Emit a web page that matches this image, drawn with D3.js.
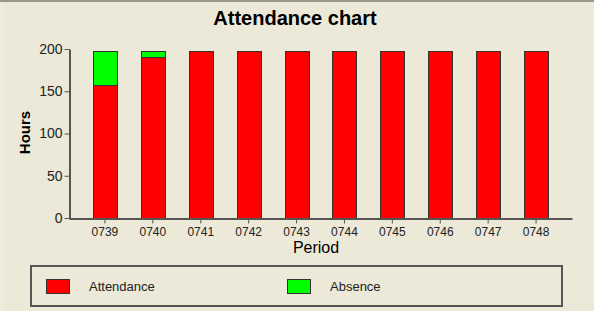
<!DOCTYPE html>
<html>
<head>
<meta charset="utf-8">
<script src="https://d3js.org/d3.v7.min.js"></script>
<style>
  body { margin: 0; background: #ECE9D8; }
</style>
</head>
<body>
<div id="graph"></div>
<script>

// data
var periods = ["0739", "0740", "0741", "0742", "0743", "0744", "0745", "0746", "0747", "0748"];
var attendance = [157, 190, 198, 198, 198, 198, 198, 198, 198, 198];
var absence = [41, 8, 0, 0, 0, 0, 0, 0, 0, 0];
var yTicks = [0, 50, 100, 150, 200];
var seriesNames = ["Attendance", "Absence"];
var seriesColors = ["#FF0000", "#00FF00"];

var W = 594, H = 311;
var margin = {top: 49, right: 22, bottom: 93, left: 69},
    width = W - margin.left - margin.right,
    height = H - margin.top - margin.bottom;

var svg = d3.select("#graph")
  .append("svg")
    .attr("width", W)
    .attr("height", H)
    .style("display", "block")
    .style("font-family", "Liberation Sans, Arial, sans-serif");

// frame
svg.append("rect").attr("width", W).attr("height", H).attr("fill", "#ECE9D8");
svg.append("line").attr("x1", 0).attr("x2", W).attr("y1", 1).attr("y2", 1)
  .attr("stroke", "#9a988c").attr("stroke-width", 2);
svg.append("line").attr("x1", 1.5).attr("x2", 1.5).attr("y1", 2).attr("y2", H)
  .attr("stroke", "#f4f2e8").attr("stroke-width", 1);

// title
svg.append("text")
  .attr("x", 295)
  .attr("y", 25)
  .attr("text-anchor", "middle")
  .attr("font-weight", "bold")
  .attr("font-size", "20px")
  .attr("fill", "#000")
  .text("Attendance chart");

var g = svg.append("g")
  .attr("transform", "translate(" + margin.left + "," + margin.top + ")");

var x = d3.scaleBand()
  .domain(periods)
  .range([0, width])
  .paddingInner(0.5)
  .paddingOuter(0.5);

var y = d3.scaleLinear()
  .domain([0, 200])
  .range([height, 0]);

// stacked bars
var rows = periods.map(function(p, i) {
  return {period: p, Attendance: attendance[i], Absence: absence[i]};
});
var stacked = d3.stack().keys(seriesNames)(rows);

g.selectAll("g.layer")
  .data(stacked)
  .enter().append("g")
    .attr("class", "layer")
    .attr("fill", function(d, i) { return seriesColors[i]; })
  .selectAll("rect")
  .data(function(d) { return d.filter(function(s) { return s[1] - s[0] > 0; }); })
  .enter().append("rect")
    .attr("x", function(d) { return Math.round(x(d.data.period)) + 0.5; })
    .attr("y", function(d) { return Math.round(y(d[1])) + 0.5; })
    .attr("width", Math.round(x.bandwidth()))
    .attr("height", function(d) { return Math.round(y(d[0])) - Math.round(y(d[1])); })
    .attr("stroke", "#333")
    .attr("stroke-width", 1);

// axes
var axisColor = "#555";
var yAxis = g.append("g")
  .attr("transform", "translate(0.5,0)")
  .call(d3.axisLeft(y).tickValues(yTicks).tickSizeInner(5).tickSizeOuter(0).tickPadding(2));
var xAxis = g.append("g")
  .attr("transform", "translate(0," + (height + 0.5) + ")")
  .call(d3.axisBottom(x).tickSizeInner(5).tickSizeOuter(0).tickPadding(4));

[yAxis, xAxis].forEach(function(a) {
  a.select(".domain").attr("stroke", axisColor).attr("stroke-width", 2);
  a.selectAll(".tick line").attr("stroke", axisColor);
  a.selectAll(".tick text")
    .attr("fill", "#222")
    .attr("font-family", "Liberation Sans, Arial, sans-serif");
});
yAxis.selectAll(".tick text").attr("font-size", "14px");
xAxis.selectAll(".tick text").attr("font-size", "12px");

// axis titles
svg.append("text")
  .attr("transform", "translate(30," + (margin.top + height / 2 - 1) + ") rotate(-90)")
  .attr("text-anchor", "middle")
  .attr("font-size", "15px")
  .attr("font-weight", "bold")
  .attr("fill", "#000")
  .text("Hours");

svg.append("text")
  .attr("x", 316)
  .attr("y", 253)
  .attr("text-anchor", "middle")
  .attr("font-size", "16px")
  .attr("fill", "#000")
  .text("Period");

// legend
var legend = svg.append("g");
legend.append("rect")
  .attr("x", 31).attr("y", 266)
  .attr("width", 531).attr("height", 40)
  .attr("fill", "none")
  .attr("stroke", "#555")
  .attr("stroke-width", 2);

var legendX = [46, 287];
var item = legend.selectAll("g.item")
  .data(seriesNames)
  .enter().append("g")
    .attr("class", "item")
    .attr("transform", function(d, i) { return "translate(" + legendX[i] + ",279)"; });
item.append("rect")
  .attr("x", 0.5).attr("y", 0.5)
  .attr("width", 23).attr("height", 14)
  .attr("fill", function(d, i) { return seriesColors[i]; })
  .attr("stroke", "#333");
item.append("text")
  .attr("x", 43)
  .attr("y", 12)
  .attr("font-size", "13px")
  .attr("fill", "#222")
  .text(function(d) { return d; });

</script>
</body>
</html>
